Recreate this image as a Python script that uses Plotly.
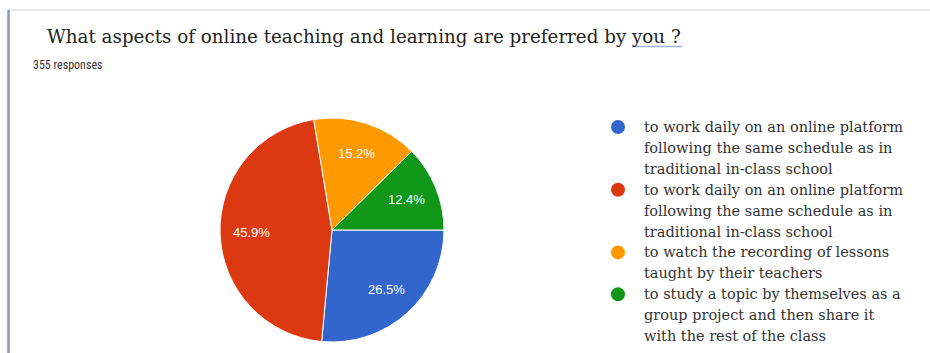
import math
import plotly.graph_objects as go

# Survey answers (355 responses)
labels = [
    "to work daily on an online platform<br>following the same schedule as in<br>traditional in-class school",
    "to work daily on an online platform<br>following the same schedule as in<br>traditional in-class school",
    "to watch the recording of lessons<br>taught by their teachers",
    "to study a topic by themselves as a<br>group project and then share it<br>with the rest of the class",
]
counts = [94, 163, 54, 44]
colors = ["#3366cc", "#dc3912", "#ff9900", "#109618"]

title_text = "What aspects of online teaching and learning are preferred by you ?"
subtitle_text = "355 responses"

W, H = 930, 353


def px(x):
    return x / W


def py(y):
    return 1 - y / H


cx, cy, r = 332, 230, 112
start_deg = 90  # first slice starts at 3 o'clock, going clockwise

fig = go.Figure()
fig.add_trace(go.Pie(
    labels=[f"opt{i}" for i in range(len(counts))],
    values=counts,
    sort=False,
    direction="clockwise",
    rotation=start_deg,
    marker=dict(colors=colors, line=dict(color="white", width=1)),
    textinfo="none",
    showlegend=False,
    hoverinfo="skip",
    domain=dict(x=[px(cx - r), px(cx + r)], y=[py(cy + r), py(cy - r)]),
))

shapes = [
    # frame: top rule and left edge
    dict(type="line", xref="paper", yref="paper", x0=px(8), x1=1, y0=py(10), y1=py(10),
         line=dict(color="#e2e2e2", width=1.5)),
    dict(type="line", xref="paper", yref="paper", x0=px(8.5), x1=px(8.5), y0=py(10), y1=0,
         line=dict(color="#8e97b4", width=2.5)),
    # spell-check underline under the last word
    dict(type="line", xref="paper", yref="paper", x0=px(632), x1=px(682), y0=py(46.5), y1=py(46.5),
         line=dict(color="#9db3e0", width=1.5)),
]

annotations = [
    dict(text=title_text, xref="paper", yref="paper", x=px(45), y=py(36),
         xanchor="left", yanchor="middle", showarrow=False,
         font=dict(family="DejaVu Serif, serif", size=18.3, color="#222222")),
    dict(text=subtitle_text, xref="paper", yref="paper", x=px(31), y=py(65),
         xanchor="left", yanchor="middle", showarrow=False,
         font=dict(family="Liberation Sans Narrow, Roboto Condensed, Arial", size=12,
                   color="#333333")),
]

# Percentage labels placed inside each slice at 0.72 of the radius
total = sum(counts)
acc = 0
for c in counts:
    mid = start_deg + 360 * (acc + c / 2) / total
    acc += c
    a = math.radians(mid)
    lx = cx + 0.72 * r * math.sin(a)
    ly = cy - 0.72 * r * math.cos(a)
    annotations.append(dict(text=f"{100 * c / total:.1f}%", xref="paper", yref="paper",
                            x=px(lx), y=py(ly), xanchor="center", yanchor="middle",
                            showarrow=False,
                            font=dict(family="Liberation Sans, Arial", size=13, color="white")))

# Legend: coloured dots with wrapped serif labels, one annotation per line
line_h = 20.9
y_line = 127
for lab, col in zip(labels, colors):
    shapes.append(dict(type="circle", xref="paper", yref="paper",
                       x0=px(611), x1=px(625), y0=py(y_line + 7), y1=py(y_line - 7),
                       fillcolor=col, line=dict(width=0)))
    for part in lab.split("<br>"):
        annotations.append(dict(text=part, xref="paper", yref="paper", x=px(642), y=py(y_line),
                                xanchor="left", yanchor="middle", showarrow=False,
                                font=dict(family="DejaVu Serif, serif", size=14.5,
                                          color="#333333")))
        y_line += line_h

fig.update_layout(
    width=W, height=H,
    margin=dict(l=0, r=0, t=0, b=0),
    paper_bgcolor="white",
    plot_bgcolor="white",
    shapes=shapes,
    annotations=annotations,
)

fig.write_html("out.html")
